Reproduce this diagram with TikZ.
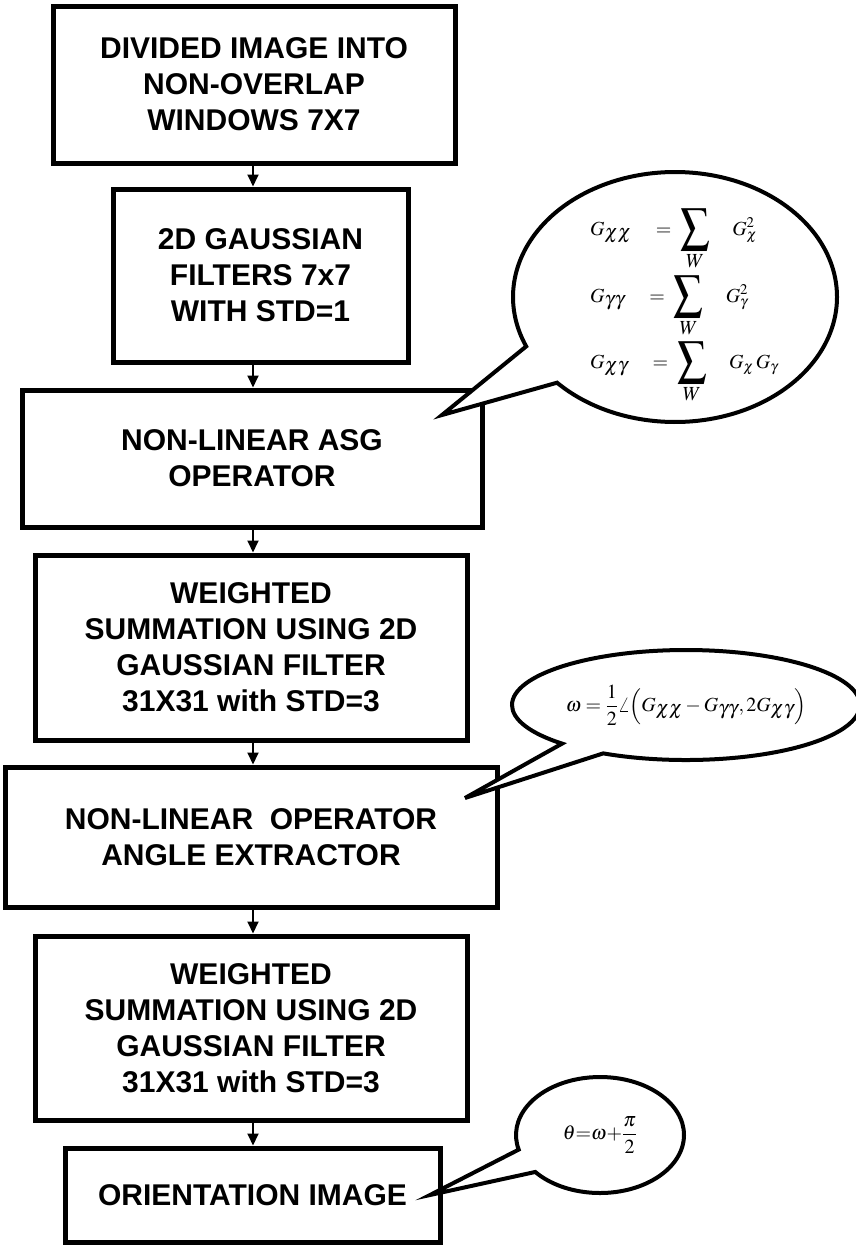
\documentclass[tikz,border=0pt]{standalone}
\usepackage{mathptmx}
\usepackage[no-math]{fontspec}
\setmainfont{Liberation Sans}
\usepackage{graphicx}
\usetikzlibrary{arrows.meta,shapes.callouts,shapes.geometric}
\newcommand{\bigsumW}{\mathop{\vcenter{\hbox{\scalebox{1.45}[1.7]{$\displaystyle\sum$}}}}\limits_{\displaystyle W}}
\begin{document}
\begin{tikzpicture}[x=1pt,y=-1pt,
  box/.style={draw, line width=5pt, rectangle, align=center, inner sep=0pt,
              font=\bfseries\fontsize{30}{36}\selectfont},
  flow/.style={line width=1.8pt, -{Triangle[length=12pt,width=11pt]}},
  bubble/.style={ellipse callout, draw, fill=white, line width=4pt, inner sep=0pt,
                 font=\fontsize{20}{24}\selectfont},
  fml/.style={inner sep=0pt, font=\fontsize{20}{24}\selectfont}]
\useasboundingbox (0,0) rectangle (856,1245);

\node[box, minimum width=402pt, minimum height=157pt] (b1) at (254,84.5)
  {DIVIDED IMAGE INTO\\NON-OVERLAP\\WINDOWS 7X7};
\node[box, minimum width=295pt, minimum height=173pt] (b2) at (260.5,275.5)
  {2D GAUSSIAN\\FILTERS 7x7\\WITH STD=1};
\node[box, minimum width=460pt, minimum height=137pt] (b3) at (252,458.5)
  {NON-LINEAR ASG\\OPERATOR};
\node[box, minimum width=432pt, minimum height=185pt] (b4) at (251,647.5)
  {WEIGHTED\\SUMMATION USING 2D\\GAUSSIAN FILTER\\31X31 with STD=3};
\node[box, minimum width=492pt, minimum height=140pt] (b5) at (251,837)
  {NON-LINEAR\ \ OPERATOR\\ANGLE EXTRACTOR};
\node[box, minimum width=432pt, minimum height=184pt] (b6) at (251,1028)
  {WEIGHTED\\SUMMATION USING 2D\\GAUSSIAN FILTER\\31X31 with STD=3};
\node[box, minimum width=375pt, minimum height=94pt] (b7) at (252.5,1195)
  {ORIENTATION IMAGE};

\coordinate (ax) at (253,0);
\draw[flow] (b1.south -| ax) -- (b2.north -| ax);
\draw[flow] (b2.south -| ax) -- (b3.north -| ax);
\draw[flow] (b3.south -| ax) -- (b4.north -| ax);
\draw[flow] (b4.south -| ax) -- (b5.north -| ax);
\draw[flow] (b5.south -| ax) -- (b6.north -| ax);
\draw[flow] (b6.south -| ax) -- (b7.north -| ax);

\node[bubble, minimum width=324pt, minimum height=250pt,
      callout absolute pointer={(442,415)}, callout pointer arc=20] (c1) at (675,297) {};
\node[bubble, minimum width=348pt, minimum height=110pt,
      callout absolute pointer={(465,798)}, callout pointer arc=17] (c2) at (686,705)
  {$\omega=\displaystyle\frac{1}{2}\angle\Bigl(G_{\textstyle\chi\chi}-G_{\textstyle\gamma\gamma},2G_{\textstyle\chi\gamma}\Bigr)$};
\node[bubble, minimum width=168pt, minimum height=116pt,
      callout absolute pointer={(430,1195)}, callout pointer arc=25] (c3) at (600,1135)
  {$\theta{=}\omega{+}\displaystyle\frac{\pi}{2}$};

\node[fml, anchor=base west] (f1) at (590,235)
  {$G_{\textstyle\chi\chi}\quad=\;\bigsumW\quad G_{\chi}^{2}$};
\node[fml, anchor=base west] (f2) at (590,302)
  {$G_{\textstyle\gamma\gamma}\quad=\;\bigsumW\quad G_{\gamma}^{2}$};
\node[fml, anchor=base west] (f3) at (590,368)
  {$G_{\textstyle\chi\gamma}\quad=\;\bigsumW\quad G_{\chi}\,G_{\gamma}$};
\end{tikzpicture}
\end{document}
